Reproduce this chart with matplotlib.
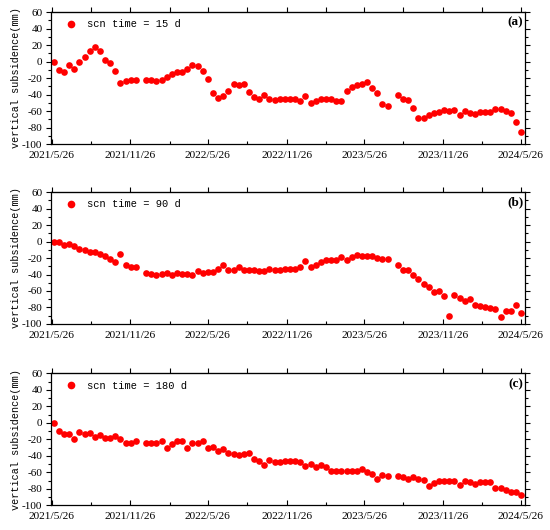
import numpy as np
import pandas as pd
import matplotlib
matplotlib.use("Agg")
import matplotlib.pyplot as plt
import matplotlib.dates as mdates
from matplotlib.ticker import FuncFormatter, MultipleLocator

plt.rcParams['axes.unicode_minus'] = False

# Sentinel-1 style acquisitions every 12 days, None = missing scene
start_date = '2021-05-31'
n_scenes = 92

sub_15d = [0, -10, -13, -4, -9, -1, 5, 13, 17, 13, 2, -2, -12, -26, -24, -23, -22, None,
           -23, -23, -24, -22, -19, -15, -13, -13, -9, -4, -5, -12, -21, -38, -44, -42,
           -36, -27, -29, -27, -37, -43, -46, -40, -45, -47, -46, -46, -46, -46, -48,
           -42, -50, -48, -46, -46, -46, -48, -48, -36, -31, -29, -27, -25, -32, -38,
           -52, -54, None, -40, -45, -47, -56, -68, -68, -65, -63, -61, -59, -60, -59,
           -65, -60, -62, -64, -61, -61, -61, -58, -58, -60, -63, -73, -86]

sub_90d = [0, 0, -4, -3, -5, -9, -10, -13, -13, -15, -18, -21, -25, -15, -29, -31, -31, None,
           -38, -39, -40, -39, -38, -41, -38, -39, -39, -40, -36, -38, -37, -37, -33, -29,
           -35, -34, -31, -35, -35, -34, -36, -36, -33, -35, -34, -33, -33, -33, -31,
           -24, -31, -28, -25, -23, -23, -23, -19, -22, -19, -16, -17, -18, -17, -20,
           -21, -21, None, -29, -35, -35, -41, -46, -51, -55, -61, -60, -66, -90, -65,
           -69, -72, -70, -77, -78, -80, -81, -82, -91, -84, -84, -77, -87]

sub_180d = [0, -10, -13, -14, -20, -11, -14, -12, -17, -15, -18, -19, -16, -20, -24, -24, -22, None,
            -24, -24, -24, -22, -30, -26, -22, -22, -30, -24, -25, -22, -31, -29, -34, -32,
            -37, -38, -39, -38, -37, -44, -46, -51, -45, -47, -47, -46, -46, -46, -48,
            -52, -50, -54, -51, -53, -58, -59, -59, -58, -59, -59, -56, -60, -62, -68,
            -63, -65, None, -64, -66, -68, -66, -68, -69, -76, -73, -71, -70, -70, -70,
            -75, -71, -72, -74, -72, -72, -72, -79, -79, -81, -84, -84, -87]

series = [sub_15d, sub_90d, sub_180d]
labels = ['scn time = 15 d', 'scn time = 90 d', 'scn time = 180 d']
panels = ['(a)', '(b)', '(c)']

dates = pd.date_range(start_date, periods=n_scenes, freq='12D')

fig = plt.figure(figsize=(5.5, 5.3), dpi=100)
left, width, height = 0.0922, 0.8624, 0.249
bottoms = [0.7283, 0.3887, 0.0466]

mono = ['Liberation Mono', 'DejaVu Sans Mono']
serif = ['Liberation Serif', 'DejaVu Serif']


def date_fmt(x, pos):
    d = mdates.num2date(x)
    return '%d/%d/%d' % (d.year, d.month, d.day)


for vals, lab, pan, b in zip(series, labels, panels, bottoms):
    ax = fig.add_axes([left, b, width, height])
    y = np.array([np.nan if v is None else v for v in vals], dtype=float)
    ax.plot(dates, y, 'o', color='#ff0000', markersize=4.8, markeredgewidth=0,
            linestyle='none', label=lab)

    ax.set_xlim(pd.Timestamp('2021-05-24'), pd.Timestamp('2024-06-05'))
    ax.set_ylim(-100, 60)
    ax.yaxis.set_major_locator(MultipleLocator(20))
    ax.yaxis.set_minor_locator(MultipleLocator(10))
    ax.xaxis.set_major_locator(mdates.MonthLocator(bymonth=[5, 11], bymonthday=26))
    ax.xaxis.set_minor_locator(mdates.MonthLocator(bymonth=[2, 8], bymonthday=26))
    ax.xaxis.set_major_formatter(FuncFormatter(date_fmt))

    ax.tick_params(axis='y', which='both', direction='out', left=True, right=True,
                   labelsize=8, width=0.8, pad=2.5)
    ax.tick_params(axis='x', which='both', direction='in', bottom=True, top=False,
                   labelsize=8.2, width=0.8, pad=5)
    ax.tick_params(which='major', length=3.5)
    ax.tick_params(which='minor', length=2)
    # outward ticks on top edge
    sec = ax.secondary_xaxis('top')
    sec.xaxis.set_major_locator(mdates.MonthLocator(bymonth=[5, 11], bymonthday=26))
    sec.xaxis.set_minor_locator(mdates.MonthLocator(bymonth=[2, 8], bymonthday=26))
    sec.tick_params(which='both', direction='out', labeltop=False, width=0.8)
    sec.tick_params(which='major', length=3.5)
    sec.tick_params(which='minor', length=3.5)

    for t in ax.get_xticklabels() + ax.get_yticklabels():
        t.set_family(serif)

    for s in ax.spines.values():
        s.set_linewidth(0.9)

    ax.set_ylabel('vertical subsidence(mm)', family=mono, fontsize=7.3, labelpad=1)
    ax.legend(loc='upper left', bbox_to_anchor=(0.018, 1.0), frameon=False,
              handlelength=0.8, handletextpad=1.2, borderaxespad=0.3,
              markerscale=1.15, prop={'family': mono, 'size': 7.5})
    ax.text(0.996, 0.965, pan, transform=ax.transAxes, ha='right', va='top',
            family=serif, fontweight='bold', fontsize=9.5)

fig.savefig('out.png', dpi=100)
